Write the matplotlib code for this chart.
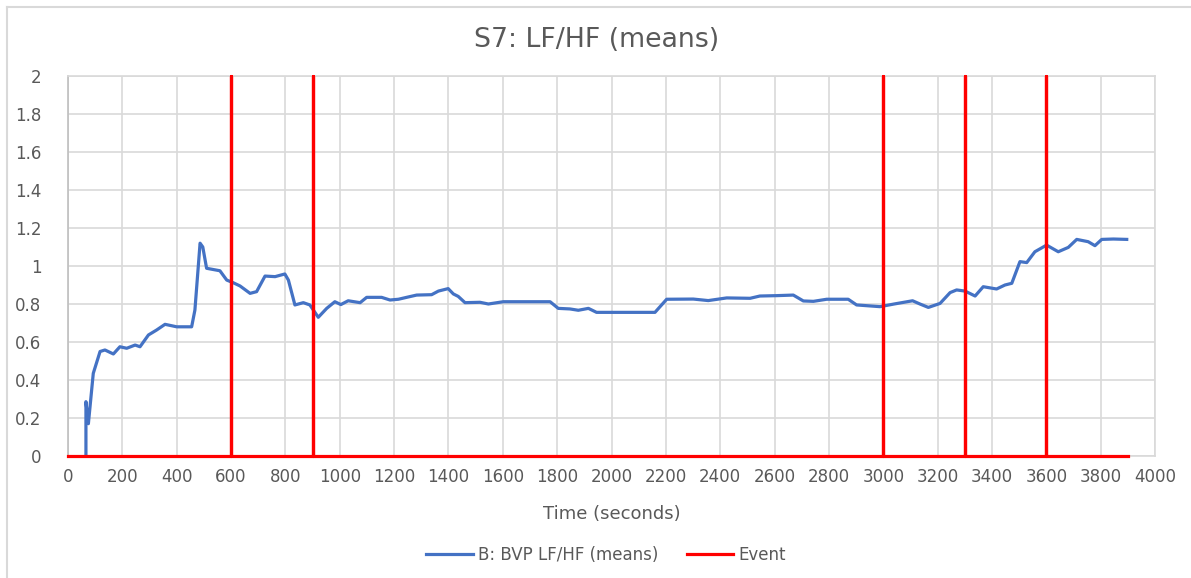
import matplotlib.pyplot as plt
from matplotlib.lines import Line2D

# blue series (seconds, LF/HF)
time_s = [66, 66, 75, 93, 118, 136, 167, 191, 216, 247, 265, 296, 326, 357, 400,
          455, 467, 486, 496, 510, 559, 584, 608, 633, 670, 694, 725, 762, 798,
          811, 835, 866, 890, 903, 921, 952, 982, 1004, 1031, 1075, 1099, 1154,
          1185, 1216, 1246, 1283, 1338, 1363, 1399, 1418, 1436, 1461, 1516, 1547,
          1602, 1688, 1774, 1804, 1847, 1878, 1915, 1945, 2031, 2105, 2160, 2203,
          2301, 2356, 2424, 2510, 2546, 2608, 2669, 2706, 2743, 2792, 2871, 2902,
          2988, 3040, 3108, 3135, 3166, 3209, 3246, 3270, 3301, 3338, 3368, 3417,
          3448, 3473, 3503, 3528, 3558, 3601, 3644, 3681, 3712, 3754, 3779, 3804,
          3847, 3896]
lfhf = [0.0, 0.286, 0.17, 0.435, 0.55, 0.558, 0.537, 0.575, 0.567, 0.584, 0.575,
        0.637, 0.663, 0.693, 0.68, 0.68, 0.768, 1.12, 1.10, 0.988, 0.975, 0.926,
        0.912, 0.895, 0.856, 0.865, 0.947, 0.944, 0.958, 0.926, 0.795, 0.807,
        0.795, 0.768, 0.73, 0.777, 0.812, 0.797, 0.817, 0.807, 0.835, 0.835,
        0.821, 0.825, 0.835, 0.847, 0.849, 0.868, 0.881, 0.853, 0.84, 0.807,
        0.809, 0.80, 0.812, 0.812, 0.812, 0.777, 0.774, 0.767, 0.777, 0.756,
        0.756, 0.756, 0.756, 0.825, 0.826, 0.818, 0.832, 0.830, 0.842, 0.844,
        0.847, 0.816, 0.814, 0.825, 0.825, 0.795, 0.786, 0.80, 0.817, 0.80,
        0.782, 0.803, 0.86, 0.874, 0.868, 0.842, 0.891, 0.879, 0.90, 0.909,
        1.023, 1.018, 1.075, 1.11, 1.075, 1.098, 1.14, 1.128, 1.107, 1.14,
        1.142, 1.14]

# event marker series: 0 baseline with spikes to 2 at event times
event_x = [0, 600, 600, 600, 900, 900, 900, 3000, 3000, 3000, 3300, 3300, 3300,
           3600, 3600, 3600, 3900]
event_y = [0, 0, 2, 0, 0, 2, 0, 0, 2, 0, 0, 2, 0, 0, 2, 0, 0]

x_ticks = list(range(0, 4001, 200))
y_ticks = [0, 0.2, 0.4, 0.6, 0.8, 1, 1.2, 1.4, 1.6, 1.8, 2]
y_labels = ['0', '0.2', '0.4', '0.6', '0.8', '1', '1.2', '1.4', '1.6', '1.8', '2']

txt = '#595959'
grid = '#d9d9d9'

fig = plt.figure(figsize=(11.91, 5.78), dpi=100)
ax = fig.add_axes([68 / 1191, 1 - 456 / 578, (1155 - 68) / 1191, (456 - 76) / 578])

ax.plot(time_s, lfhf, color='#4472C4', lw=2.3, label='B: BVP LF/HF (means)',
        solid_joinstyle='round', zorder=3)
ax.plot(event_x, event_y, color='#FF0000', lw=2.3, label='Event', zorder=4,
        clip_on=False)

ax.set_xlim(0, 4000)
ax.set_ylim(0, 2)
ax.set_xticks(x_ticks)
ax.set_yticks(y_ticks)
ax.set_yticklabels(y_labels)
ax.grid(True, color=grid, lw=1.2)
ax.set_axisbelow(True)
for s in ax.spines.values():
    s.set_color(grid)
    s.set_linewidth(1.2)
ax.spines['left'].set_color('#bfbfbf')
ax.tick_params(length=0, labelsize=12, labelcolor=txt)
ax.tick_params(axis='y', pad=19)
ax.tick_params(axis='x', pad=9)

ax.set_xlabel('Time (seconds)', fontsize=13, color=txt)
ax.xaxis.set_label_coords(0.5, -0.129)

fig.text(0.501, 1 - 40 / 578, 'S7: LF/HF (means)', fontsize=19.3, color=txt,
         ha='center', va='center')

leg = ax.legend(loc='center', bbox_to_anchor=(0.495, -0.26), ncol=2, frameon=False,
                fontsize=12, handlelength=2.8, handletextpad=0.3,
                columnspacing=1.7)
for t in leg.get_texts():
    t.set_color(txt)

# chart-area border (top and left visible)
fig.add_artist(Line2D([7 / 1191, 7 / 1191], [0, 1 - 7 / 578], color=grid, lw=1.5))
fig.add_artist(Line2D([7 / 1191, 1], [1 - 7 / 578, 1 - 7 / 578], color=grid, lw=1.5))

fig.savefig('out.png', dpi=100)
